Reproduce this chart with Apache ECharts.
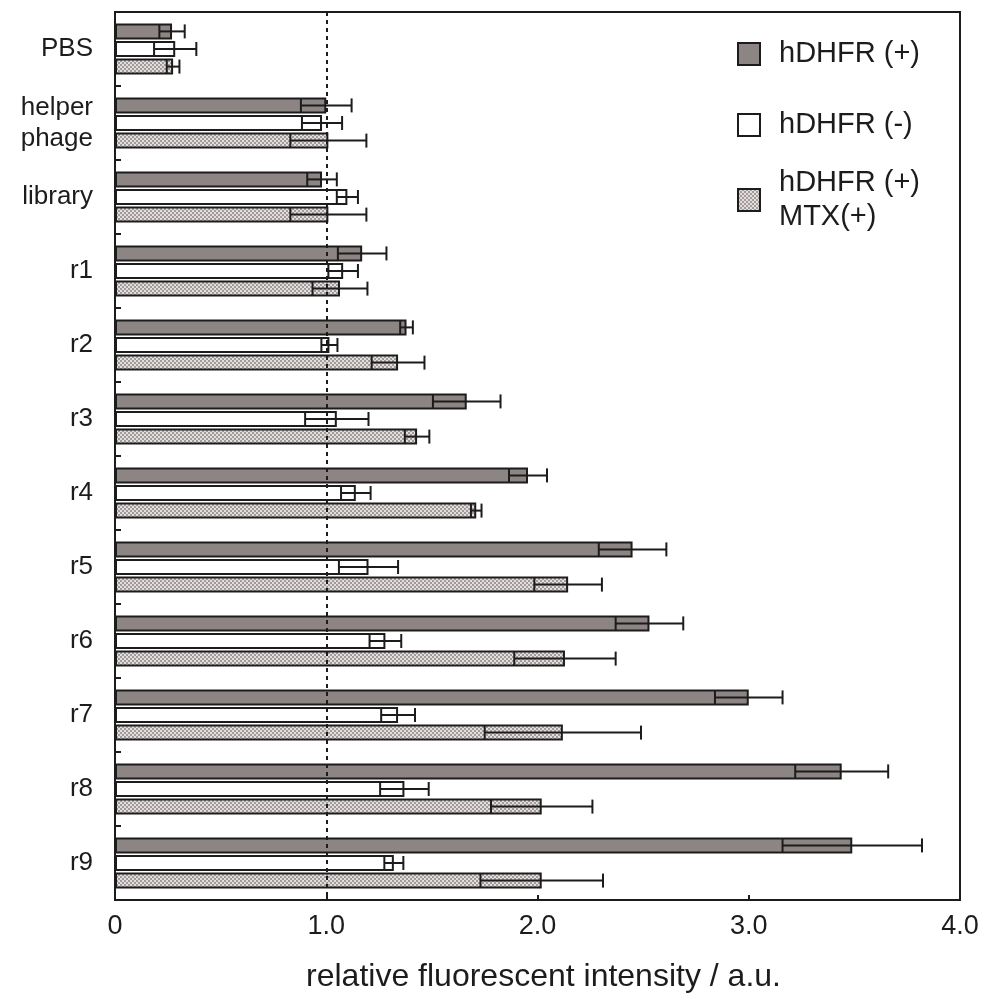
<!DOCTYPE html>
<html>
<head>
<meta charset="utf-8">
<script src="https://cdn.jsdelivr.net/npm/echarts@6/dist/echarts.min.js"></script>
<style>
  html, body { margin: 0; padding: 0; background: #fff; }
  #chart { width: 985px; height: 999px; }
</style>
</head>
<body>
<div id="chart"></div>
<script>
// samples, top to bottom
var categories = ['PBS', 'helper\nphage', 'library', 'r1', 'r2', 'r3', 'r4', 'r5', 'r6', 'r7', 'r8', 'r9'];

// hDHFR (+)
var plusMean = [0.27, 1.00, 0.98, 1.17, 1.38, 1.665, 1.955, 2.45, 2.53, 3.00, 3.44, 3.49];
var plusErr  = [0.06, 0.12, 0.07, 0.115, 0.03, 0.16, 0.09, 0.16, 0.16, 0.16, 0.22, 0.33];

// hDHFR (-)
var minusMean = [0.285, 0.98, 1.10, 1.08, 1.015, 1.05, 1.14, 1.20, 1.28, 1.34, 1.37, 1.32];
var minusErr  = [0.10, 0.095, 0.05, 0.07, 0.038, 0.15, 0.07, 0.14, 0.075, 0.08, 0.115, 0.045];

// hDHFR (+) MTX(+)
var mtxMean = [0.275, 1.01, 1.01, 1.065, 1.34, 1.43, 1.71, 2.145, 2.13, 2.12, 2.02, 2.02];
var mtxErr  = [0.03, 0.18, 0.18, 0.13, 0.125, 0.058, 0.025, 0.16, 0.24, 0.37, 0.24, 0.29];

var FONT = '"Liberation Sans", Arial, sans-serif';
var INK = '#1c1c1c';
var BAR_W = 16;
var PITCH = 17.6;

// dotted fill for the MTX bars
var pat = document.createElement('canvas');
pat.width = 4; pat.height = 4;
var pctx = pat.getContext('2d');
pctx.fillStyle = '#e2dede';
pctx.fillRect(0, 0, 4, 4);
pctx.fillStyle = '#a29b9a';
pctx.fillRect(0, 0, 2, 2);
pctx.fillRect(2, 2, 2, 2);

function errData(mean, err) {
  return mean.map(function (m, i) { return [i, m - err[i], m + err[i]]; });
}

function errRenderer(offset) {
  return function (params, api) {
    var i = api.value(0);
    var a = api.coord([api.value(1), i]);
    var b = api.coord([api.value(2), i]);
    var y = a[1] + offset;
    var h = 7;
    var st = { stroke: INK, lineWidth: 2 };
    return {
      type: 'group',
      children: [
        { type: 'line', shape: { x1: a[0], y1: y, x2: b[0], y2: y }, style: st },
        { type: 'line', shape: { x1: a[0], y1: y - h, x2: a[0], y2: y + h }, style: st },
        { type: 'line', shape: { x1: b[0], y1: y - h, x2: b[0], y2: y + h }, style: st }
      ]
    };
  };
}

function errSeries(mean, err, offset) {
  return {
    type: 'custom',
    renderItem: errRenderer(offset),
    data: errData(mean, err),
    encode: { x: [1, 2], y: 0 },
    z: 5,
    silent: true
  };
}

var legendStyle = {
  orient: 'vertical',
  left: 732,
  icon: 'rect',
  itemWidth: 22,
  itemHeight: 22,
  itemGap: 0,
  selectedMode: false,
  itemStyle: { borderColor: INK, borderWidth: 2 },
  textStyle: { fontFamily: FONT, fontSize: 29, color: INK, lineHeight: 34, padding: [0, 0, 0, 14] }
};

var chart = echarts.init(document.getElementById('chart'));
chart.setOption({
  animation: false,
  backgroundColor: '#fff',
  legend: [
    Object.assign({}, legendStyle, { top: 32, data: ['hDHFR (+)'] }),
    Object.assign({}, legendStyle, { top: 103, data: ['hDHFR (-)'] }),
    Object.assign({}, legendStyle, { top: 161, data: ['hDHFR (+)\nMTX(+)'] })
  ],
  grid: {
    left: 115, right: 25, top: 12, bottom: 99,
    show: true, borderColor: INK, borderWidth: 2
  },
  xAxis: {
    type: 'value',
    min: 0, max: 4, interval: 1,
    axisLine: { show: true, lineStyle: { color: INK, width: 2 } },
    axisTick: { show: true, inside: true, length: 5, lineStyle: { color: INK, width: 2 } },
    splitLine: { show: false },
    axisLabel: {
      margin: 13,
      fontFamily: FONT, fontSize: 27, color: INK,
      formatter: function (v) { return v === 0 ? '0' : v.toFixed(1); }
    },
    name: 'relative fluorescent intensity / a.u.',
    nameLocation: 'middle',
    nameGap: 61,
    nameTextStyle: { fontFamily: FONT, fontSize: 32, color: INK, padding: [0, 0, 0, 12] }
  },
  yAxis: {
    type: 'category',
    data: categories,
    inverse: true,
    axisLine: { show: true, lineStyle: { color: INK, width: 2 } },
    axisTick: { show: true, inside: true, length: 6, lineStyle: { color: INK, width: 2 } },
    axisLabel: { margin: 22, fontFamily: FONT, fontSize: 26, color: INK, lineHeight: 31 }
  },
  series: [
    {
      name: 'hDHFR (+)',
      type: 'bar',
      data: plusMean,
      barWidth: BAR_W,
      barGap: '10%',
      itemStyle: { color: '#8c8583', borderColor: INK, borderWidth: 2 },
      markLine: {
        silent: true,
        symbol: 'none',
        label: { show: false },
        lineStyle: { color: INK, width: 2, type: [4, 4] },
        data: [{ xAxis: 1 }]
      }
    },
    {
      name: 'hDHFR (-)',
      type: 'bar',
      data: minusMean,
      barWidth: BAR_W,
      barGap: '10%',
      itemStyle: { color: '#ffffff', borderColor: INK, borderWidth: 2 }
    },
    {
      name: 'hDHFR (+)\nMTX(+)',
      type: 'bar',
      data: mtxMean,
      barWidth: BAR_W,
      barGap: '10%',
      itemStyle: { color: { image: pat, repeat: 'repeat' }, borderColor: INK, borderWidth: 2 }
    },
    errSeries(plusMean, plusErr, -PITCH),
    errSeries(minusMean, minusErr, 0),
    errSeries(mtxMean, mtxErr, PITCH)
  ]
});
</script>
</body>
</html>
